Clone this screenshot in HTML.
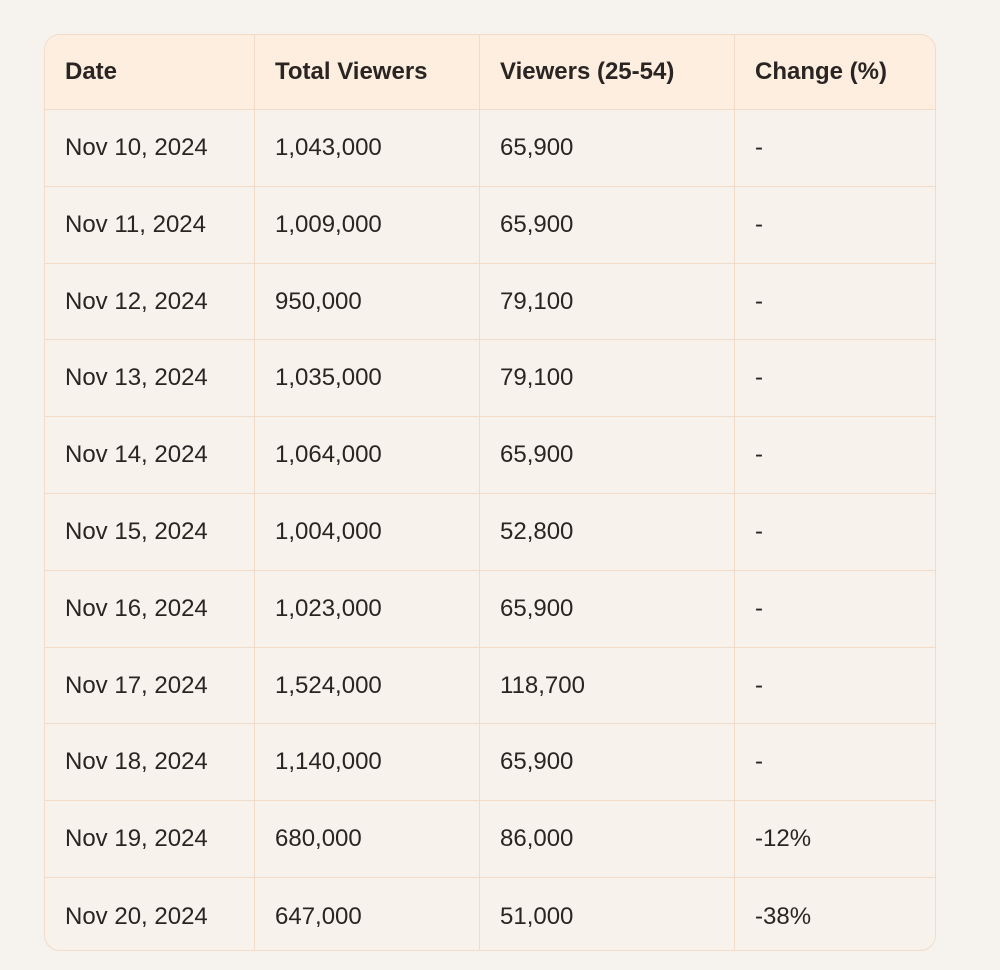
<!DOCTYPE html>
<html><head><meta charset="utf-8"><style>
body{margin:0;width:1000px;height:970px;background:#f6f2ee;font-family:"Liberation Sans",sans-serif;color:#2a2523;overflow:hidden}
#tbl{position:absolute;left:44px;top:34px;width:892px;height:917px;border:1px solid #f0dcc8;border-radius:16px;overflow:hidden;background:#f8f2ed;box-sizing:border-box}
.row{position:absolute;left:0;width:892px;border-bottom:1px solid #f0dcc8;box-sizing:border-box}
.hdr{background:#fdeee0;font-weight:bold}
.cell{position:absolute;top:0;height:100%;display:flex;align-items:center;padding-left:20px;box-sizing:border-box;font-size:24px;border-right:1px solid #f0dcc8}
</style></head><body>
<div id="tbl"></div>
<script>
const headers=["Date","Total Viewers","Viewers (25-54)","Change (%)"];
const dates=["Nov 10, 2024","Nov 11, 2024","Nov 12, 2024","Nov 13, 2024","Nov 14, 2024","Nov 15, 2024","Nov 16, 2024","Nov 17, 2024","Nov 18, 2024","Nov 19, 2024","Nov 20, 2024"];
const total=["1,043,000","1,009,000","950,000","1,035,000","1,064,000","1,004,000","1,023,000","1,524,000","1,140,000","680,000","647,000"];
const demo=["65,900","65,900","79,100","79,100","65,900","52,800","65,900","118,700","65,900","86,000","51,000"];
const change=["-","-","-","-","-","-","-","-","-","-12%","-38%"];
const colX=[0,210,435,690];const colW=[210,225,255,202];
const t=document.getElementById('tbl');
function mkRow(vals,top,h,isH,i){
 const r=document.createElement('div');
 
 
 r.className='row'+(isH?' hdr':'');r.style.top=top+'px';r.style.height=h+'px';
 if(!isH&&i===dates.length-1)r.style.borderBottom='none';
 vals.forEach((v,j)=>{const c=document.createElement('div');
  
  
  c.className='cell';c.style.left=colX[j]+'px';c.style.width=colW[j]+'px';
  if(j===3)c.style.borderRight='none';
  c.textContent=v;r.appendChild(c);});
 t.appendChild(r);
}
mkRow(headers,0,75,true);
const rh=76.8;
dates.forEach((d,i)=>mkRow([d,total[i],demo[i],change[i]],Math.round(75+i*rh),Math.round(75+(i+1)*rh)-Math.round(75+i*rh),false,i));
</script>
</body></html>
